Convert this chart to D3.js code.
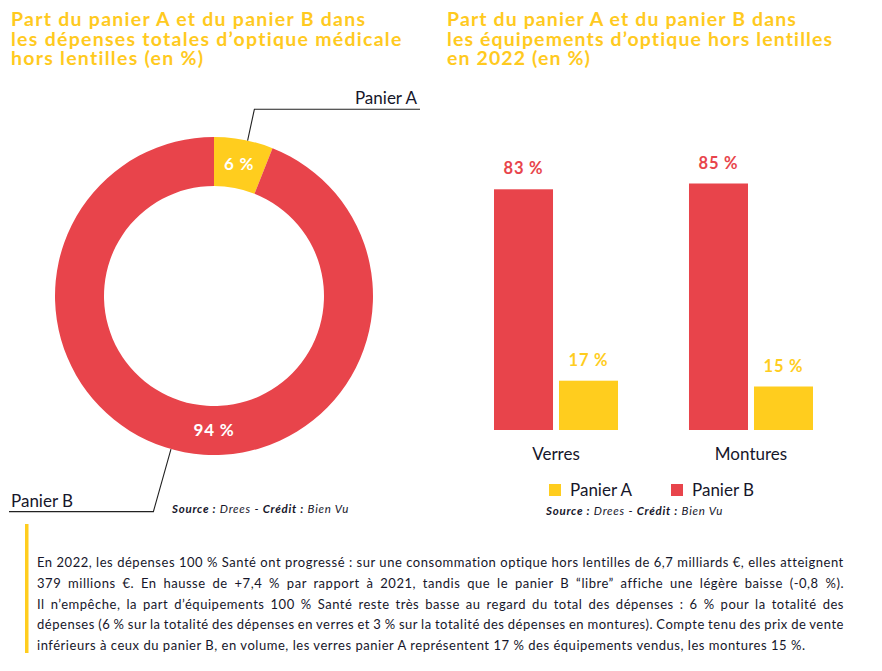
<!DOCTYPE html>
<html><head><meta charset="utf-8">
<script src="https://cdn.jsdelivr.net/npm/d3@7"></script>
<style>
html,body{margin:0;padding:0;background:#fff;}
svg{display:block;font-family:Lato, "Open Sans", sans-serif;}
</style></head>
<body>
<svg id="c" width="882" height="671"></svg>
<script>
// ---- data ----
const donutLabels = ["Panier A", "Panier B"];
const donutValues = [6, 94];
const barCategories = ["Verres", "Montures"];
const barSeries = ["Panier B", "Panier A"];
const panierBValues = [83, 85];
const panierAValues = [17, 15];
const legendItems = ["Panier A", "Panier B"];
const leftTitle = ["Part du panier A et du panier B dans", "les dépenses totales d’optique médicale", "hors lentilles (en %)"];
const rightTitle = ["Part du panier A et du panier B dans", "les équipements d’optique hors lentilles", "en 2022 (en %)"];
const bodyLines = [
 "En 2022, les dépenses 100 % Santé ont progressé : sur une consommation optique hors lentilles de 6,7 milliards €, elles atteignent",
 "379 millions €. En hausse de +7,4 % par rapport à 2021, tandis que le panier B “libre” affiche une légère baisse (-0,8 %).",
 "Il n’empêche, la part d’équipements 100 % Santé reste très basse au regard du total des dépenses : 6 % pour la totalité des",
 "dépenses (6 % sur la totalité des dépenses en verres et 3 % sur la totalité des dépenses en montures). Compte tenu des prix de vente",
 "inférieurs à ceux du panier B, en volume, les verres panier A représentent 17 % des équipements vendus, les montures 15 %."
];

const RED = "#E8444B", YEL = "#FFCD1E", TXT = "#16162a", TITLE = "#FFCA1F";
const color = d3.scaleOrdinal().domain(["Panier A","Panier B"]).range([YEL, RED]);
const svg = d3.select("#c");

// letter-spacing so that a reference text node reaches a target width
function spacingFor(node, target){
  const w = node.getComputedTextLength();
  const n = node.textContent.length;
  return (target - w) / n;
}

// ---- titles ----
function title(lines, x, targetW){
  const t = svg.append("g").selectAll("text").data(lines).join("text")
    .attr("x", x).attr("y", (d,i)=>26 + i*19.5)
    .attr("fill", TITLE).attr("font-weight", 700).attr("font-size", 19.5)
    .text(d=>d);
  const ls = spacingFor(t.nodes()[1], targetW);
  t.attr("letter-spacing", ls.toFixed(3));
}
title(leftTitle, 11, 392);
title(rightTitle, 447, 387);

// ---- donut ----
const cx = 214, cy = 296, rOut = 159, rIn = 110;
const pie = d3.pie().sort(null).value(d=>d.v);
const arcs = pie(donutLabels.map((l,i)=>({l, v: donutValues[i]})));
const arc = d3.arc().innerRadius(rIn).outerRadius(rOut);
const g = svg.append("g").attr("transform", `translate(${cx},${cy})`);
g.selectAll("path").data(arcs).join("path").attr("d", arc).attr("fill", d=>color(d.data.l));
const midR = (rIn + rOut)/2;
function labelAngle(d){ return (d.endAngle - d.startAngle) > Math.PI ? Math.PI : (d.startAngle + d.endAngle)/2; }
g.selectAll("text.v").data(arcs).join("text").attr("class","v")
  .attr("x", d=>midR*Math.sin(labelAngle(d)))
  .attr("y", d=>-midR*Math.cos(labelAngle(d)))
  .attr("dy", "0.35em").attr("text-anchor","middle")
  .attr("fill","#fff").attr("font-weight",700).attr("font-size",17).attr("letter-spacing",0.8)
  .text(d=>d.data.v + " %");

// leader lines
const leaderAngle = [12.2*Math.PI/180, 195.7*Math.PI/180];
const leaderEnd = [420 - cx, 9 - cx];
arcs.forEach((d,i)=>{
  const a = leaderAngle[i];
  const r2 = i===0 ? 191 : 224;
  const p0 = [rOut*Math.sin(a), -rOut*Math.cos(a)];
  const p1 = [r2*Math.sin(a), -r2*Math.cos(a)];
  const p2 = [leaderEnd[i], p1[1]];
  g.append("path").attr("d", d3.line()([p0,p1,p2])).attr("fill","none").attr("stroke","#222").attr("stroke-width",1.1);
  g.append("text").attr("x", i===0 ? leaderEnd[i]-3 : leaderEnd[i]+2).attr("y", p1[1]-5)
    .attr("text-anchor", i===0 ? "end" : "start")
    .attr("fill", TXT).attr("font-size", 17).text(d.data.l);
});

function source(x, y, targetW){
  const t = svg.append("text").attr("x", x).attr("y", y).attr("font-size", 11.5).attr("font-style","italic").attr("fill", TXT);
  t.append("tspan").attr("font-weight",700).text("Source :");
  t.append("tspan").text(" Drees - ");
  t.append("tspan").attr("font-weight",700).text("Crédit :");
  t.append("tspan").text(" Bien Vu");
  t.attr("letter-spacing", spacingFor(t.node(), targetW).toFixed(3));
}
source(172, 513, 177);

// ---- bar chart ----
const x0 = d3.scaleBand().domain(barCategories).range([494, 813]).paddingInner(0.364).paddingOuter(0);
const x1 = d3.scaleBand().domain(barSeries).range([0, x0.bandwidth()]).paddingInner(0.0923);
const y = d3.scaleLinear().domain([0, 100]).range([430, 140]);
const rows = barCategories.map((c,i)=>({c, vals: [{s:"Panier B", v: panierBValues[i]}, {s:"Panier A", v: panierAValues[i]}]}));
const bg = svg.append("g").selectAll("g").data(rows).join("g").attr("transform", d=>`translate(${x0(d.c)},0)`);
bg.selectAll("rect").data(d=>d.vals).join("rect")
  .attr("x", d=>x1(d.s)).attr("width", x1.bandwidth())
  .attr("y", d=>y(d.v)).attr("height", d=>y(0)-y(d.v))
  .attr("fill", d=>color(d.s));
bg.selectAll("text.v").data(d=>d.vals).join("text").attr("class","v")
  .attr("x", d=>x1(d.s)+x1.bandwidth()/2).attr("y", d=>y(d.v)-15)
  .attr("text-anchor","middle").attr("font-weight",700).attr("font-size",16.5).attr("letter-spacing",0.8)
  .attr("fill", d=>color(d.s)).text(d=>d.v + " %");
const xAxis = svg.append("g").attr("transform","translate(0,430)").call(d3.axisBottom(x0).tickSize(0).tickPadding(18));
xAxis.select(".domain").remove();
xAxis.selectAll("text").attr("font-size",17).attr("fill",TXT).attr("font-family","Lato, sans-serif");

// legend
const lx = d3.scalePoint().domain(legendItems).range([549, 671]);
const lg = svg.append("g").selectAll("g").data(legendItems).join("g").attr("transform", d=>`translate(${lx(d)},484)`);
lg.append("rect").attr("width",12).attr("height",12).attr("fill", d=>color(d));
lg.append("text").attr("x",21).attr("y",12).attr("font-size",17).attr("fill",TXT).text(d=>d);
source(546, 515, 177);

// ---- text box ----
svg.append("rect").attr("x",25).attr("y",524).attr("width",3.5).attr("height",129).attr("fill", YEL);
const bx = 37, bw = 807;
const body = svg.append("g").selectAll("text").data(bodyLines).join("text")
  .attr("x", bx).attr("y", (d,i)=>567 + i*20.8)
  .attr("font-size", 13).attr("fill", TXT).text(d=>d);
const bls = spacingFor(body.nodes()[0], bw);
body.attr("letter-spacing", bls.toFixed(3));
body.each(function(d,i){
  if (i === 0 || i === bodyLines.length-1) return;
  const w = this.getComputedTextLength();
  const gaps = d.split(" ").length - 1;
  d3.select(this).attr("word-spacing", ((bw - w)/gaps).toFixed(3));
});
</script>
</body></html>
